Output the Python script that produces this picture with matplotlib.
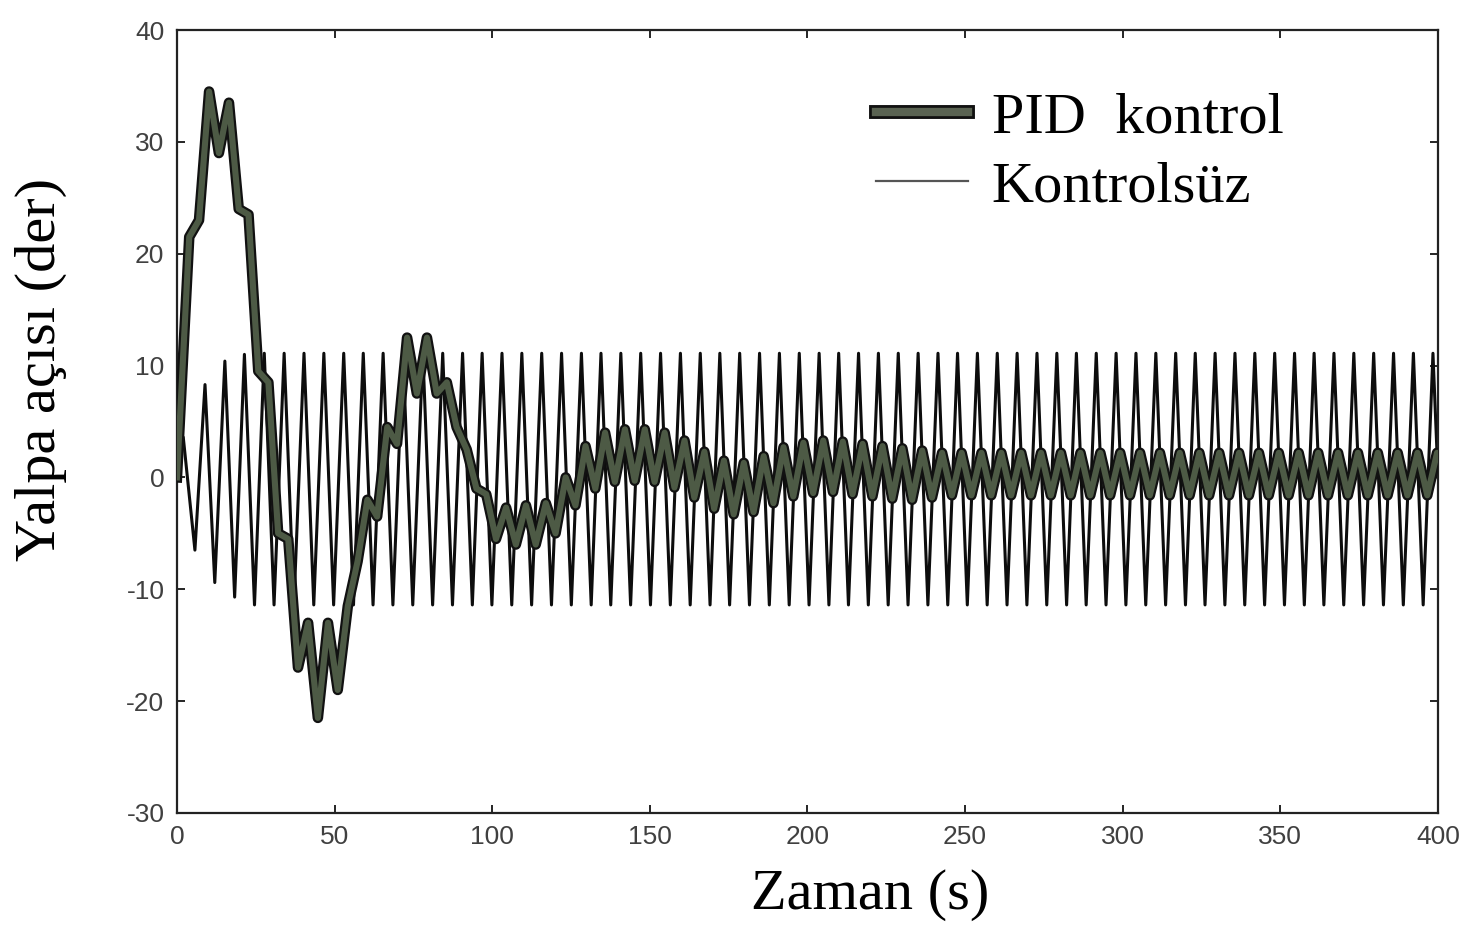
import numpy as np
import matplotlib
matplotlib.use('Agg')
import matplotlib.pyplot as plt
import matplotlib.patheffects as pe
from matplotlib.lines import Line2D

# Kontrolsuz: turning points (peaks / troughs)
unc_top_t = [2.0, 8.9, 15.2, 21.4, 27.7, 34.0, 40.3, 46.6, 52.9, 59.1, 65.4, 71.7, 78.0, 84.3,
             90.6, 96.8, 103.1, 109.4, 115.7, 122.0, 128.3, 134.5, 140.8, 147.1, 153.4, 159.7,
             166.0, 172.2, 178.5, 184.8, 191.1, 197.4, 203.7, 209.9, 216.2, 222.5, 228.8, 235.1,
             241.4, 247.6, 253.9, 260.2, 266.5, 272.8, 279.1, 285.3, 291.6, 297.9, 304.2, 310.5,
             316.8, 323.0, 329.3, 335.6, 341.9, 348.2, 354.5, 360.7, 367.0, 373.3, 379.6, 385.9,
             392.2, 398.4]
unc_top_y = [3.6, 8.3, 10.4, 11.0] + [11.1] * 60
unc_bot_t = [5.7, 12.0, 18.3, 24.6, 30.8, 37.1, 43.4, 49.7, 56.0, 62.2, 68.5, 74.8, 81.1, 87.4,
             93.7, 99.9, 106.2, 112.5, 118.8, 125.1, 131.4, 137.6, 143.9, 150.2, 156.5, 162.8,
             169.1, 175.3, 181.6, 187.9, 194.2, 200.5, 206.8, 213.0, 219.3, 225.6, 231.9, 238.2,
             244.5, 250.7, 257.0, 263.3, 269.6, 275.9, 282.2, 288.4, 294.7, 301.0, 307.3, 313.6,
             319.9, 326.1, 332.4, 338.7, 345.0, 351.3, 357.6, 363.8, 370.1, 376.4, 382.7, 389.0,
             395.3]
unc_bot_y = [-6.5, -9.4, -10.7] + [-11.4] * 60

# PID kontrol: turning points
pid_top_t = [3.9, 10.2, 16.5, 22.7, 29.0, 35.3, 41.6, 47.9, 54.2, 60.4, 66.7, 73.0, 79.3, 85.6,
             91.9, 98.1, 104.4, 110.7, 117.0, 123.3, 129.6, 135.8, 142.1, 148.4, 154.7, 161.0,
             167.3, 173.5, 179.8, 186.1, 192.4, 198.7, 205.0, 211.2, 217.5, 223.8, 230.1, 236.4,
             242.7, 248.9, 255.2, 261.5, 267.8, 274.1, 280.4, 286.6, 292.9, 299.2, 305.5, 311.8,
             318.1, 324.3, 330.6, 336.9, 343.2, 349.5, 355.8, 362.0, 368.3, 374.6, 380.9, 387.2,
             393.5, 399.7]
pid_top_y = [21.5, 34.5, 33.5, 23.5, 8.5, -5.5, -13, -13, -11.5, -2, 4.5, 12.5, 12.5, 8.5,
             2.5, -1.5, -2.7, -2.5, -2.3, 0.0, 2.8, 4.0, 4.3, 4.3, 4.0, 3.3, 2.3, 1.5, 1.3,
             1.9, 2.7, 3.1, 3.3, 3.2, 3.0, 2.8, 2.6, 2.4] + [2.2] * 26
pid_bot_t = [7.0, 13.3, 19.6, 25.8, 32.1, 38.4, 44.7, 51.0, 57.3, 63.5, 69.8, 76.1, 82.4, 88.7,
             95.0, 101.2, 107.5, 113.8, 120.1, 126.4, 132.7, 138.9, 145.2, 151.5, 157.8, 164.1,
             170.4, 176.6, 182.9, 189.2, 195.5, 201.8, 208.1, 214.3, 220.6, 226.9, 233.2, 239.5,
             245.8, 252.0, 258.3, 264.6, 270.9, 277.2, 283.5, 289.7, 296.0, 302.3, 308.6, 314.9,
             321.2, 327.4, 333.7, 340.0, 346.3, 352.6, 358.9, 365.1, 371.4, 377.7, 384.0, 390.3,
             396.6]
pid_bot_y = [23, 29, 24, 9.5, -5, -17, -21.5, -19, -7.5, -3.5, 3, 7.5, 7.5, 4.5, -1, -5.5,
             -6, -6, -5, -2.5, -1.0, -0.4, -0.3, -0.4, -0.9, -1.8, -2.8, -3.3, -3.1, -2.3,
             -1.7, -1.4, -1.3, -1.5, -1.7, -1.9, -2.0, -1.8] + [-1.6] * 25

x_ticks = [0, 50, 100, 150, 200, 250, 300, 350, 400]
y_ticks = [-30, -20, -10, 0, 10, 20, 30, 40]


def merge(t0, y0, ta, ya, tb, yb, t1, y1):
    t = np.array([t0] + list(ta) + list(tb) + [t1])
    y = np.array([y0] + list(ya) + list(yb) + [y1])
    idx = np.argsort(t)
    return t[idx], y[idx]


unc_t, unc_y = merge(0, 0, unc_top_t, unc_top_y, unc_bot_t, unc_bot_y, 400, 0)
pid_t, pid_y = merge(0, 0, pid_top_t, pid_top_y, pid_bot_t, pid_bot_y, 400, 2.0)

plt.rcParams['axes.unicode_minus'] = False
serif = 'Liberation Serif'
olive = '#4d5a45'

fig = plt.figure(figsize=(14.66, 9.38), dpi=100)
ax = fig.add_axes([0.1207, 0.1333, 0.8602, 0.8347])

ax.plot(unc_t, unc_y, color='#0d0d0d', lw=2.2, zorder=2)
ax.plot(pid_t, pid_y, color=olive, lw=4.4, zorder=3, solid_joinstyle='round',
        path_effects=[pe.Stroke(linewidth=7.6, foreground='#111111'), pe.Normal()])

ax.set_xlim(0, 400)
ax.set_ylim(-30, 40)
ax.set_xticks(x_ticks)
ax.set_yticks(y_ticks)
ax.tick_params(direction='in', length=6, width=1.2, top=True, right=True,
               labelsize=19, labelcolor='#404040')
ax.tick_params(axis='y', pad=9)
ax.tick_params(axis='x', pad=9)
for lab in ax.get_xticklabels() + ax.get_yticklabels():
    lab.set_family('Liberation Sans')
for sp in ax.spines.values():
    sp.set_linewidth(1.6)
    sp.set_color('#222222')

ax.set_xlabel('Zaman (s)', family=serif, fontsize=42)
ax.xaxis.set_label_coords(0.5496, -0.072)
ax.set_ylabel('Yalpa açısı (der)', family=serif, fontsize=42)
ax.yaxis.set_label_coords(-0.087, 0.566)

h_pid = Line2D([], [], color='#5a6352', lw=6.0,
               path_effects=[pe.Stroke(linewidth=10, foreground='#111111'), pe.Normal()])
h_unc = Line2D([], [], color='#555555', lw=1.6)
ax.legend([h_pid, h_unc], ['PID  kontrol', 'Kontrolsüz'], loc='upper left',
          bbox_to_anchor=(0.554, 0.921), frameon=False,
          prop={'family': serif, 'size': 42}, handlelength=1.58, handletextpad=0.41,
          labelspacing=0.27, borderpad=0, borderaxespad=0)

fig.savefig('out.png', dpi=100)
